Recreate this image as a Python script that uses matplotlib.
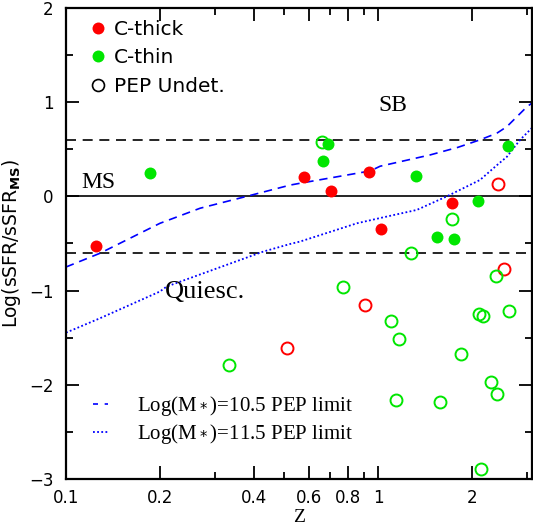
import matplotlib
matplotlib.use("Agg")
import matplotlib.pyplot as plt
from matplotlib.lines import Line2D

# C-thick (filled red) detections
thick_z = [0.125, 0.579, 0.705, 0.938, 1.02, 1.72]
thick_y = [-0.53, 0.21, 0.06, 0.26, -0.35, -0.07]

# C-thin (filled green) detections
thin_z = [0.186, 0.693, 0.668, 1.318, 2.60, 2.087, 1.549, 1.744]
thin_y = [0.245, 0.56, 0.38, 0.217, 0.53, -0.045, -0.434, -0.455]

# PEP undetected, C-thick (open red)
thick_und_z = [2.413, 2.535, 0.906, 0.511]
thick_und_y = [0.128, -0.774, -1.153, -1.606]

# PEP undetected, C-thin (open green)
thin_und_z = [0.660, 1.72, 1.273, 2.38, 0.774, 1.103, 1.17, 2.102, 2.175,
              2.63, 1.84, 2.297, 2.405, 1.142, 1.573, 2.138, 0.332]
thin_und_y = [0.58, -0.24, -0.604, -0.845, -0.958, -1.323, -1.51, -1.248, -1.266,
              -1.217, -1.673, -1.974, -2.098, -2.161, -2.183, -2.894, -1.793]

# PEP detection limit curves
lim105_z = [0.1, 0.1285, 0.2, 0.269, 0.379, 0.523, 0.562, 0.944, 1.015, 1.468,
            1.8, 2.12, 2.40, 2.585, 2.995, 3.14]
lim105_y = [-0.75, -0.604, -0.286, -0.126, 0.0, 0.12, 0.139, 0.27, 0.32, 0.44,
            0.52, 0.60, 0.67, 0.74, 0.95, 1.0]
lim115_z = [0.1, 0.1285, 0.2, 0.21, 0.428, 0.523, 0.562, 0.855, 1.015, 1.33,
            1.66, 2.12, 2.4, 2.585, 2.85, 3.14]
lim115_y = [-1.447, -1.294, -1.01, -0.958, -0.587, -0.505, -0.48, -0.286, -0.23, -0.144,
            0.0, 0.174, 0.33, 0.42, 0.60, 0.74]

xticks = [0.1, 0.2, 0.4, 0.6, 0.8, 1, 2]
xticklabels = ["0.1", "0.2", "0.4", "0.6", "0.8", "1", "2"]
xminor = [0.3, 0.5, 0.7, 0.9, 3]

RED = "#ff0000"
GREEN = "#00e600"
BLUE = "#0000ff"

fig = plt.figure(figsize=(5.33, 5.31), dpi=100)
ax = fig.add_axes([0.1238, 0.098, 0.875, 0.887])

# reference lines
ax.axhline(0, color="black", lw=1.2)
ax.axhline(0.6, color="black", lw=1.2, dashes=(6, 4))
ax.axhline(-0.6, color="black", lw=1.2, dashes=(6, 4))

ax.plot(lim105_z, lim105_y, color=BLUE, lw=1.2, dashes=(5, 3.5))
ax.plot(lim115_z, lim115_y, color=BLUE, lw=1.3, linestyle=(0, (1, 1.3)))

ms = 8.6
ax.plot(thick_z, thick_y, "o", color=RED, ms=ms, mec="none")
ax.plot(thin_z, thin_y, "o", color=GREEN, ms=ms, mec="none")
ax.plot(thick_und_z, thick_und_y, "o", mfc="none", mec=RED, ms=ms, mew=1.4)
ax.plot(thin_und_z, thin_und_y, "o", mfc="none", mec=GREEN, ms=ms, mew=1.4)

# region labels
serif = "Liberation Serif"
ax.text(1.117, 0.96, "SB", family=serif, fontsize=17, ha="center", va="center")
ax.text(0.1266, 0.15, "MS", family=serif, fontsize=17, ha="center", va="center")
ax.text(0.279, -1.02, "Quiesc.", family=serif, fontsize=19, ha="center", va="center")

ax.set_xscale("log")
ax.set_xlim(0.1, 3.12)
ax.set_ylim(-3, 2)
ax.set_xticks(xticks)
ax.set_xticklabels(xticklabels)
ax.set_xticks(xminor, minor=True)
ax.set_xticklabels([], minor=True)
ax.set_yticks([-3, -2, -1, 0, 1, 2])
ax.set_yticks([-2.5, -1.5, -0.5, 0.5, 1.5], minor=True)
ax.tick_params(which="both", direction="in", top=True, right=True, width=1.3,
               labelsize=12)
ax.tick_params(which="major", length=9.5)
ax.tick_params(which="minor", length=5)
ax.tick_params(axis="x", which="major", pad=7)
ax.tick_params(axis="y", which="major", pad=9)
for s in ax.spines.values():
    s.set_linewidth(1.6)

ax.set_xlabel("Z", family=serif, fontsize=14, labelpad=2)
ax.set_ylabel(r"Log(sSFR/sSFR$_{\mathbf{MS}}$)", fontsize=13.5, labelpad=4)

# symbol legend
h1 = [Line2D([], [], ls="none", marker="o", color=RED, ms=ms, mec="none"),
      Line2D([], [], ls="none", marker="o", color=GREEN, ms=ms, mec="none"),
      Line2D([], [], ls="none", marker="o", mfc="none", mec="black", ms=ms, mew=1.2)]
leg1 = ax.legend(h1, ["C-thick", "C-thin", "PEP Undet."], loc="upper left",
                 bbox_to_anchor=(0.04, 0.988), frameon=False, fontsize=14.5,
                 handlelength=0.7, handletextpad=0.45,
                 labelspacing=0.48, borderaxespad=0, borderpad=0.3)
ax.add_artist(leg1)

# limit legend
h2 = [Line2D([], [], color=BLUE, lw=1.2, dashes=(3, 4)),
      Line2D([], [], color=BLUE, lw=1.3, linestyle=(0, (1, 1.3)))]
ax.legend(h2, [r"Log(M$_*$)=10.5 PEP limit", r"Log(M$_*$)=11.5 PEP limit"],
          loc="lower left", bbox_to_anchor=(0.04, 0.052), frameon=False,
          prop={"family": serif, "size": 15}, handlelength=0.7,
          handletextpad=1.4, labelspacing=0.2, borderaxespad=0)

fig.savefig("out.png", dpi=100)
